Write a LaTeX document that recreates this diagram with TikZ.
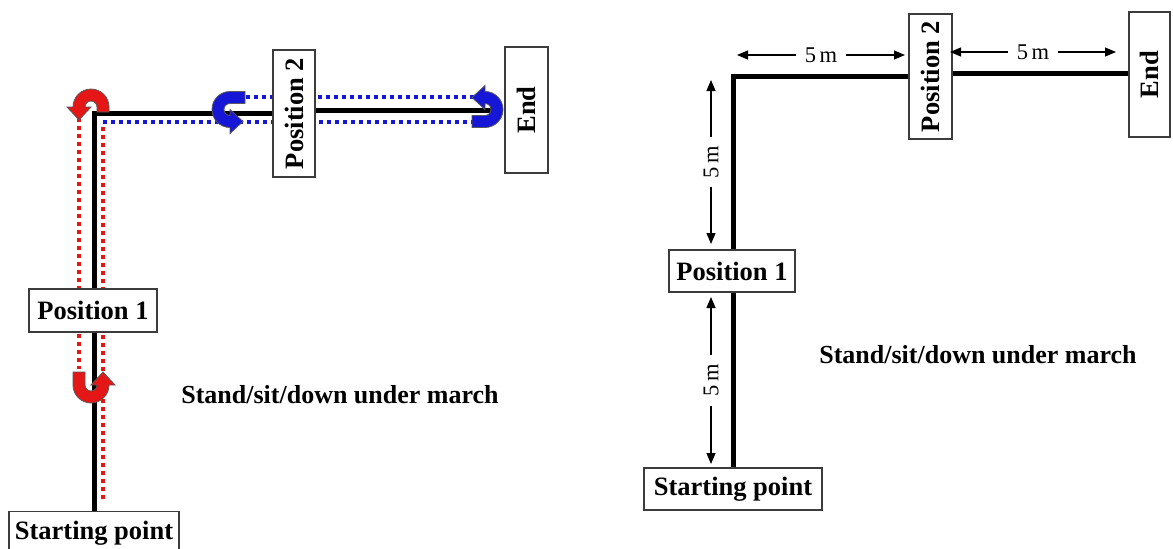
\documentclass[tikz,border=0pt]{standalone}
\usepackage{fontspec}
\setmainfont{Liberation Serif}
\usetikzlibrary{arrows.meta}
\definecolor{myred}{RGB}{228,22,22}
\definecolor{myblue}{RGB}{22,22,215}
\definecolor{boxline}{RGB}{60,60,60}
\tikzset{
  box/.style={draw=boxline, line width=1.3pt, fill=white, inner sep=0pt,
    font=\fontsize{26.5}{30}\selectfont\bfseries},
  track/.style={line width=5pt, black},
  reddot/.style={myred, line width=3.5pt, dash pattern=on 4pt off 4pt},
  bluedot/.style={myblue, line width=3.5pt, dash pattern=on 4pt off 4pt},
  dim/.style={line width=1.2pt, {Triangle[length=11pt,width=9pt]}-{Triangle[length=11pt,width=9pt]}},
  dimlabel/.style={fill=white, inner xsep=9pt, inner ysep=2pt, font=\fontsize{22.5}{26}\selectfont},
  caption/.style={font=\fontsize{26}{30}\selectfont\bfseries, inner sep=0pt},
  pics/uturn/.style n args={3}{code={
    \filldraw[fill=#1, draw=black!65, line width=0.8pt]
      (#2,-18) -- (0,-18) .. controls (-9.94,-18) and (-18,-9.94) .. (-18,0)
      .. controls (-18,9.94) and (-9.94,18) .. (0,18) -- (#3,18) -- (#3,24)
      -- ({#3+13},12) -- (#3,0) -- (#3,6) -- (0,6)
      .. controls (-3.31,6) and (-6,3.31) .. (-6,0)
      .. controls (-6,-3.31) and (-3.31,-6) .. (0,-6) -- (#2,-6) -- cycle;
  }}
}
\begin{document}
\begin{tikzpicture}[x=1pt, y=-1pt]
\useasboundingbox (0,0) rectangle (1173,549);

% ================= LEFT DIAGRAM =================
% dotted return paths
\coordinate (rl1) at (79,110);  \coordinate (rl2) at (79,369);
\coordinate (rr1) at (103,127); \coordinate (rr2) at (103,499);
\coordinate (bt1) at (246,97);  \coordinate (bt2) at (478,97);
\coordinate (bb1) at (103,122); \coordinate (bb2) at (472,122);
\draw[reddot] (rl1) -- (rl2);
\draw[reddot] (rr1) -- (rr2);
\draw[bluedot] (bt1) -- (bt2);
\draw[bluedot] (bb1) -- (bb2);

% boxes
\node[box, minimum width=128pt, minimum height=43pt] (p1L) at (93,310.5) {Position 1};
\node[box, minimum width=170pt, minimum height=43pt, anchor=north] (stL) at (94,511) {Starting point};
\node[box, rotate=90, minimum width=127pt, minimum height=42pt] (p2L) at (294,113.5) {Position 2};
\node[box, rotate=90, minimum width=126pt, minimum height=43pt] (endL) at (526.5,110) {End};

% track
\coordinate (cL) at (94,113);
\coordinate (eL) at (494,110);
\draw[track] (p1L.north -| cL) -- (cL) -- (p2L.north |- cL);
\draw[track] (stL.north -| cL) -- (p1L.south -| cL);
\draw[track] (p2L.south |- eL) -- (eL);

% U-turn arrows
\pic[rotate=-90] at (91,107) {uturn={myred}{5}{0}};
\pic[rotate=90] at (91,385) {uturn={myred}{13}{0}};
\pic at (230,109.5) {uturn={myblue}{15}{0}};
\pic[rotate=180] at (485,109.5) {uturn={myblue}{13}{0}};

\node[caption] (capL) at (340,395) {Stand/sit/down under march};

% ================= RIGHT DIAGRAM =================
\node[box, minimum width=126pt, minimum height=42pt] (p1R) at (732,271) {Position 1};
\node[box, minimum width=178pt, minimum height=42pt] (stR) at (733,489) {Starting point};
\node[box, rotate=90, minimum width=125pt, minimum height=43pt] (p2R) at (930.5,76.5) {Position 2};
\node[box, rotate=90, minimum width=125pt, minimum height=41pt] (endR) at (1149.5,74.5) {End};

\coordinate (cR) at (733,76);
\coordinate (hR) at (0,73);
\draw[track] (p1R.north -| cR) -- (cR) -- (p2R.north |- cR);
\draw[track] (stR.north -| cR) -- (p1R.south -| cR);
\draw[track] (p2R.south |- hR) -- (endR.north |- hR);

% dimension arrows
\coordinate (d1a) at (737,55);  \coordinate (d1b) at (905,55);
\coordinate (d2a) at (950,52);  \coordinate (d2b) at (1116,52);
\coordinate (d3a) at (711,80);  \coordinate (d3b) at (711,244);
\coordinate (d4a) at (711,297); \coordinate (d4b) at (711,464);
\draw[dim] (d1a) -- (d1b) node[midway, dimlabel] {5\,m};
\draw[dim] (d2a) -- (d2b) node[midway, dimlabel] {5\,m};
\draw[dim] (d3a) -- (d3b) node[midway, dimlabel, rotate=90] {5\,m};
\draw[dim] (d4a) -- (d4b) node[midway, dimlabel, rotate=90] {5\,m};

\node[caption] (capR) at (978,355) {Stand/sit/down under march};
\end{tikzpicture}
\end{document}
